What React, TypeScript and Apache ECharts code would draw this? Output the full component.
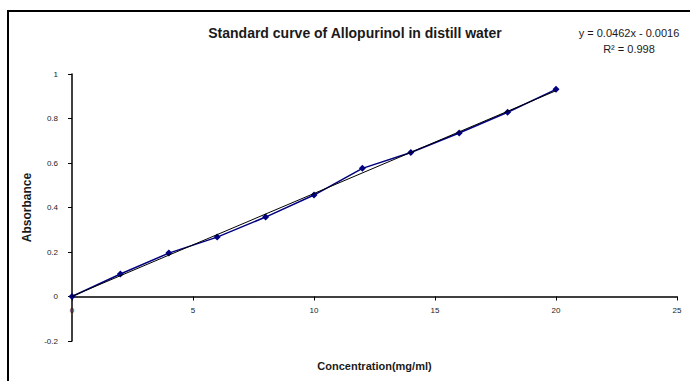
import React, { useEffect, useRef } from "react";
import * as echarts from "echarts";

const concentrations = [0, 2, 4, 6, 8, 10, 12, 14, 16, 18, 20];
const absorbances = [0, 0.101, 0.195, 0.267, 0.357, 0.456, 0.576, 0.647, 0.735, 0.828, 0.931];
const chartTitle = "Standard curve of Allopurinol in distill water";
const equationText = "y = 0.0462x - 0.0016";
const r2Text = "R² = 0.998";
const xName = "Concentration(mg/ml)";
const yName = "Absorbance";

export default function App() {
  const ref = useRef<HTMLDivElement>(null);
  useEffect(() => {
    if (!ref.current) return;
    const chart = echarts.init(ref.current, null, { renderer: "svg" });
    const n = concentrations.length;
    const mx = concentrations.reduce((a, b) => a + b, 0) / n;
    const my = absorbances.reduce((a, b) => a + b, 0) / n;
    let sxy = 0, sxx = 0;
    for (let i = 0; i < n; i++) {
      sxy += (concentrations[i] - mx) * (absorbances[i] - my);
      sxx += (concentrations[i] - mx) ** 2;
    }
    const slope = sxy / sxx;
    const intercept = my - slope * mx;
    const x0 = concentrations[0];
    const x1 = concentrations[n - 1];
    const trend = [
      [x0, slope * x0 + intercept],
      [x1, slope * x1 + intercept],
    ];
    const font = "Liberation Sans, Arial, sans-serif";
    const gridTop = 74;
    const gridBottom = 40;
    const plotH = 381 - gridTop - gridBottom;
    const yMin = -0.2;
    const yMax = 1;
    const zeroOffset = (plotH * (0 - yMin)) / (yMax - yMin);
    chart.setOption({
      animation: false,
      backgroundColor: "#fff",
      textStyle: { fontFamily: font },
      title: [
        {
          text: chartTitle,
          left: 350,
          top: 21,
          textAlign: "center",
          textStyle: { fontSize: 14, fontWeight: "bold", color: "#1a1a1a", fontFamily: font },
        },
        {
          text: equationText + "\n" + r2Text,
          left: 624,
          top: 20,
          textAlign: "center",
          textStyle: { fontSize: 11, fontWeight: "normal", color: "#1a1a1a", lineHeight: 16, fontFamily: font },
        },
      ],
      grid: { left: 72, right: 13, top: gridTop, bottom: gridBottom, outerBoundsMode: "none", containLabel: false },
      xAxis: {
        type: "value",
        min: 0,
        max: 25,
        interval: 5,
        position: "bottom",
        offset: -zeroOffset,
        name: xName,
        nameLocation: "middle",
        nameGap: 64,
        nameTextStyle: { fontSize: 11, fontWeight: "bold", color: "#1a1a1a" },
        axisLine: { onZero: false, lineStyle: { color: "#000", width: 1.5 } },
        axisTick: { show: true, inside: false, length: 4, lineStyle: { color: "#000" } },
        axisLabel: { fontSize: 8, color: "#1a1a1a", margin: 10 },
        splitLine: { show: false },
      },
      yAxis: {
        type: "value",
        min: yMin,
        max: yMax,
        interval: 0.2,
        name: yName,
        nameLocation: "middle",
        nameGap: 38,
        nameRotate: 90,
        nameTextStyle: { fontSize: 12, fontWeight: "bold", color: "#1a1a1a" },
        axisLine: { show: true, onZero: false, lineStyle: { color: "#000", width: 1.5 } },
        axisTick: { show: true, length: 4, lineStyle: { color: "#000" } },
        axisLabel: {
          fontSize: 8,
          color: "#1a1a1a",
          margin: 14,
          formatter: (v: number) => String(Math.round(v * 10) / 10),
        },
        splitLine: { show: false },
      },
      series: [
        {
          type: "line",
          data: concentrations.map((x, i) => [x, absorbances[i]]),
          symbol: "diamond",
          symbolSize: 7,
          showSymbol: true,
          lineStyle: { color: "#000080", width: 1.5 },
          itemStyle: { color: "#000080" },
          z: 3,
        },
        {
          type: "line",
          data: trend,
          symbol: "none",
          lineStyle: { color: "#000", width: 1 },
          z: 4,
        },
      ],
      graphic: [
        {
          type: "rect",
          shape: { x: 8, y: 11, width: 720, height: 420 },
          style: { fill: "none", stroke: "#000", lineWidth: 2 },
          silent: true,
        },
      ],
    });
    return () => chart.dispose();
  }, []);
  return <div ref={ref} style={{ width: 690, height: 381, position: "absolute", left: 0, top: 0 }} />;
}
